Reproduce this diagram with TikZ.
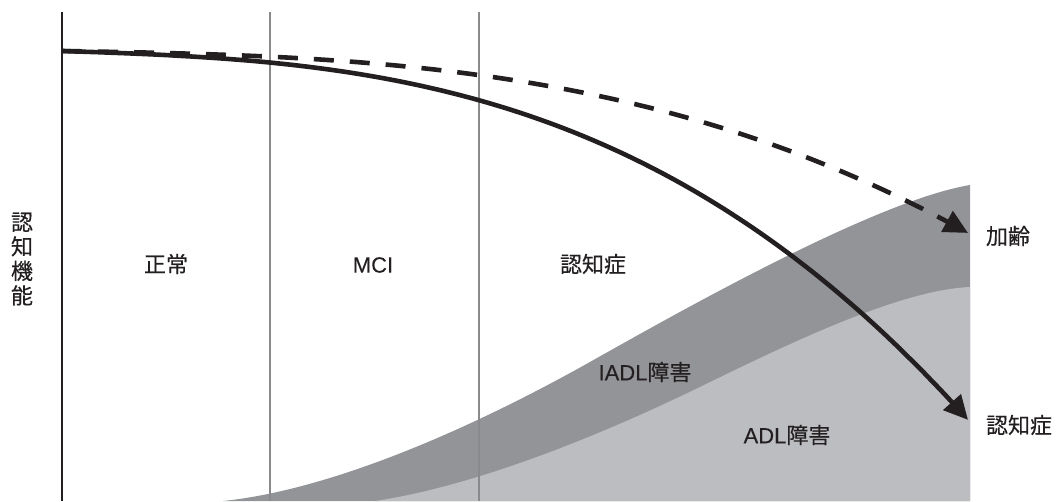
\documentclass[tikz,border=0pt]{standalone}
\usepackage{fontspec}
\newfontfamily\jp[FakeBold=0.4]{Noto Sans CJK JP}
\newfontfamily\lat[FakeBold=0.2]{Liberation Sans}
\usetikzlibrary{arrows.meta}
\definecolor{ink}{HTML}{231F20}
\definecolor{darkband}{HTML}{939498}
\definecolor{lightband}{HTML}{BCBDC1}
\definecolor{divider}{HTML}{8A8A8C}
\begin{document}
\begin{tikzpicture}[x=1pt,y=-1pt,
  lbl/.style={font=\jp\fontsize{22}{24.5}\selectfont, text=ink, inner sep=0pt, align=center},
  curve/.style={line width=4.6pt, draw=ink},
  tip/.style={-{Triangle[length=24pt,width=23pt]}}]
\useasboundingbox (0,0) rectangle (1056,501);
% bands
\fill[darkband] (223,501) .. controls (330,490) and (470,430) .. (597,358)
  .. controls (700,300) and (880,200) .. (970,185) -- (970,501) -- cycle;
\fill[lightband] (375,501) .. controls (450,490) and (560,455) .. (700,387)
  .. controls (790,343) and (900,290) .. (970,287) -- (970,501) -- cycle;
% dividers
\coordinate (a0) at (62,12); \coordinate (a1) at (62,501);
\coordinate (d0) at (270,12); \coordinate (d1) at (270,501);
\coordinate (e0) at (479,12); \coordinate (e1) at (479,501);
\draw[ink, line width=1.6pt] (a0) -- (a1);
\draw[divider, line width=1.1pt] (d0) -- (d1);
\draw[divider, line width=1.1pt] (e0) -- (e1);
% curves
\draw[curve, tip, dash pattern=on 20pt off 16pt] plot[domain=62:968, samples=120, smooth]
  (\x, {51 + 15*((\x-62)/906) + 167*((\x-62)/906)^2.93});
\draw[curve, tip] plot[domain=62:968, samples=120, smooth]
  (\x, {51 + 30*((\x-62)/906) + 339*((\x-62)/906)^2.91});
% labels
\node[lbl] (ylab) at (22,259) {認\\知\\機\\能};
\node[lbl] (normal) at (166,264) {正常};
\node[lbl] (mci) at (373,265) {\lat MCI};
\node[lbl] (dem) at (593,264) {認知症};
\node[lbl] (aging) at (1008,236) {加齢};
\node[lbl] (demr) at (1019,425) {認知症};
\node[lbl] (iadl) at (645,372) {{\lat IADL}障害};
\node[lbl] (adl) at (787,435) {{\lat ADL}障害};
\end{tikzpicture}
\end{document}
